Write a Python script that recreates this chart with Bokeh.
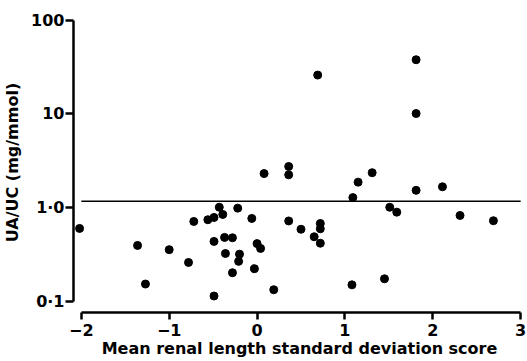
from bokeh.plotting import figure
from bokeh.models import FixedTicker, Range1d
from bokeh.embed import file_html
from bokeh.resources import INLINE

# Mean renal length standard deviation score (x) and UA/UC ratio in mg/mmol (y)
renal_sds = [-2.02, -1.36, -1.27, -1.00, -0.78, -0.72, -0.56, -0.49, -0.43, -0.39,
             -0.49, -0.49, -0.37, -0.28, -0.36, -0.28, -0.22, -0.20, -0.21, -0.06,
             0.00, 0.04, -0.03, 0.08, 0.19, 0.36, 0.36, 0.36, 0.50, 0.65,
             0.72, 0.72, 0.72, 0.69, 1.08, 1.09, 1.15, 1.31, 1.45, 1.51,
             1.59, 1.81, 1.81, 1.81, 2.11, 2.31, 2.69]
ua_uc = [0.60, 0.395, 0.153, 0.356, 0.260, 0.712, 0.743, 0.786, 1.01, 0.846,
         0.436, 0.114, 0.481, 0.477, 0.324, 0.202, 0.988, 0.319, 0.267, 0.767,
         0.413, 0.367, 0.223, 2.31, 0.133, 2.75, 2.24, 0.721, 0.588, 0.489,
         0.678, 0.595, 0.417, 26.0, 0.150, 1.28, 1.87, 2.36, 0.174, 1.01,
         0.895, 37.9, 10.1, 1.53, 1.67, 0.825, 0.725]

x_ticks = [-2, -1, 0, 1, 2, 3]
x_tick_labels = ["\u22122", "\u22121", "0", "1", "2", "3"]
y_ticks = [0.1, 1, 10, 100]
y_tick_labels = ["0\u00b71", "1\u00b70", "10", "100"]
reference_level = 1.17
reference_span = [-2, 3]
x_title = "Mean renal length standard deviation score"
y_title = "UA/UC (mg/mmol)"

FONT = "DejaVu Sans"
FSIZE = "16px"

p = figure(width=527, height=361,
           x_range=Range1d(-2.089, 3.055), y_range=Range1d(0.076, 121),
           y_axis_type="log", output_backend="svg", toolbar_location=None,
           min_border_left=71, min_border_right=2, min_border_top=12,
           min_border_bottom=49)
p.grid.visible = False
p.outline_line_color = None
p.background_fill_color = "white"
p.border_fill_color = "white"

p.line(reference_span, [reference_level] * 2, line_color="black", line_width=1.5)
p.scatter(renal_sds, ua_uc, size=8, color="black")

p.xaxis.ticker = FixedTicker(ticks=x_ticks)
p.xaxis.major_label_overrides = dict(zip(x_ticks, x_tick_labels))
p.yaxis.ticker = FixedTicker(ticks=y_ticks)
p.yaxis.major_label_overrides = dict(zip(y_ticks, y_tick_labels))
p.xaxis.bounds = (x_ticks[0], x_ticks[-1])
p.yaxis.bounds = (y_ticks[0], y_ticks[-1])

p.xaxis.axis_label = x_title
p.yaxis.axis_label = y_title

for ax in (p.xaxis[0], p.yaxis[0]):
    ax.axis_line_width = 2.5
    ax.axis_line_color = "black"
    ax.major_tick_line_width = 2.5
    ax.major_tick_line_color = "black"
    ax.major_tick_in = 0
    ax.minor_tick_line_color = None
    ax.major_label_text_font = FONT
    ax.major_label_text_font_size = FSIZE
    ax.major_label_text_font_style = "bold"
    ax.major_label_text_color = "black"
    ax.axis_label_text_font = FONT
    ax.axis_label_text_font_size = FSIZE
    ax.axis_label_text_font_style = "bold"
    ax.axis_label_text_color = "black"

p.xaxis.major_tick_out = 7
p.yaxis.major_tick_out = 8
p.xaxis.major_label_standoff = 4
p.yaxis.major_label_standoff = 1
p.xaxis.axis_label_standoff = 0
p.yaxis.axis_label_standoff = 6

open("out.html", "w").write(file_html(p, INLINE))
